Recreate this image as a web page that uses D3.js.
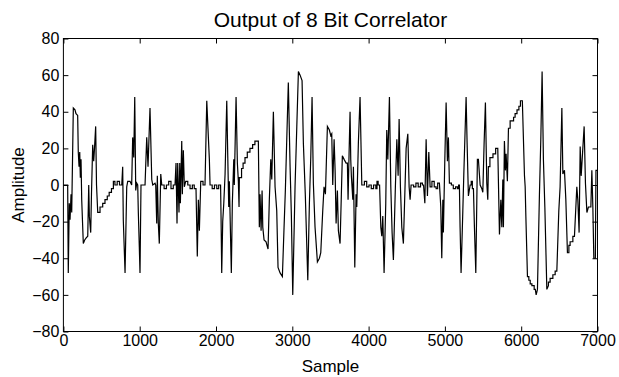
<!DOCTYPE html>
<html>
<head>
<meta charset="utf-8">
<script src="https://cdn.jsdelivr.net/npm/d3@7"></script>
<style>
  html, body { margin: 0; padding: 0; background: #fff; }
  svg text { font-family: "Liberation Sans", Arial, Helvetica, sans-serif; fill: #000; }
</style>
</head>
<body>
<svg id="chart" width="619" height="377"></svg>
<script>
const title = 'Output of 8 Bit Correlator';
const xLabel = 'Sample';
const yLabel = 'Amplitude';
const xTicks = [0, 1000, 2000, 3000, 4000, 5000, 6000, 7000];
const yTicks = [-80, -60, -40, -20, 0, 20, 40, 60, 80];

// [sample, amplitude]
const correlatorOut = [
  [0,0],[56,0],[64,-48],[77,-10],[87,-19],[100,-5],[109,-15],[130,42],[152,41],[165,39],[187,38],
  [195,18],[205,10],[214,18],[222,4],[231,14],[240,-8],[261,-32],[279,-30],[296,-29],[319,-28],
  [332,0],[340,-17],[358,-26],[368,-5],[384,22],[397,13],[405,18],[423,32],[434,0],[450,-15],
  [480,-15],[480,-12],[515,-12],[515,-10],[545,-10],[545,-8],[575,-8],[575,-6],[600,-6],[600,-4],
  [630,-4],[630,-2],[655,-2],[655,2],[675,2],[675,0],[705,0],[705,2],[735,2],[735,0],[765,0],
  [777,10],[785,-19],[808,-48],[830,-1],[843,2],[873,2],[895,0],[908,26],[922,15],[935,48],[948,-3],
  [961,1],[974,0],[982,-15],[995,-34],[1004,-48],[1017,0],[1070,0],[1092,26],[1109,10],[1135,42],
  [1158,3],[1171,0],[1201,1],[1210,0],[1223,-21],[1231,5],[1244,-21],[1257,-32],[1276,6],[1289,0],
  [1320,0],[1320,-2],[1350,-2],[1350,0],[1380,0],[1380,2],[1410,2],[1410,-2],[1440,-2],[1440,0],[1463,0],
  [1476,12],[1489,-21],[1498,12],[1515,-15],[1525,12],[1533,-10],[1551,24],[1559,-5],[1572,19],
  [1585,-1],[1603,2],[1630,2],[1630,0],[1660,0],[1660,-2],[1690,-2],[1690,0],[1715,0],[1715,-2],[1738,-2],
  [1755,-39],[1769,-8],[1782,-25],[1800,2],[1830,2],[1830,0],[1856,0],[1879,46],[1900,26],[1913,14],[1922,0],
  [1950,0],[1950,-2],[1980,-2],[1980,0],[2010,0],[2010,-2],[2035,-2],[2035,0],[2060,0],
  [2066,-17],[2075,-48],[2088,-20],[2102,-10],[2119,6],[2141,46],[2154,16],[2167,-12],[2175,2],
  [2201,-48],[2214,-10],[2233,14],[2240,0],[2263,48],[2280,12],[2293,2],[2302,-12],[2306,4],
  [2335,4],[2335,9],[2355,9],[2355,12],[2380,12],[2380,15],[2410,15],[2410,18],[2445,18],[2445,20],
  [2480,20],[2480,22],[2510,22],[2510,24],[2555,24],
  [2568,-23],[2577,-5],[2591,-25],[2604,-3],[2613,-23],[2630,-30],[2656,-31],[2682,-35],[2699,-8],
  [2718,14],[2731,3],[2752,40],[2774,-1],[2796,-14],[2813,-45],[2840,-48],[2870,-50],[2892,-23],
  [2909,-3],[2948,56],[2971,10],[2988,-17],[3006,-60],[3036,-1],[3059,32],[3080,62],[3102,60],
  [3128,57],[3145,23],[3171,-6],[3203,-52],[3224,-10],[3242,15],[3259,48],[3276,1],[3298,-23],
  [3329,-42],[3355,-40],[3373,-37],[3399,-14],[3416,-1],[3434,-5],[3460,32],[3486,30],[3504,27],
  [3517,28],[3530,0],[3548,25],[3561,8],[3574,-21],[3591,-3],[3604,-25],[3626,-32],[3643,-5],
  [3656,16],[3679,14],[3705,12],[3722,12],[3731,-8],[3744,17],[3757,40],[3766,14],[3774,5],
  [3793,-8],[3801,10],[3819,-45],[3836,-5],[3845,-12],[3866,23],[3888,48],[3911,0],
  [3945,0],[3945,2],[3975,2],[3975,-1],[4005,-1],[4005,0],[4035,0],[4035,-2],[4065,-2],[4065,0],
  [4095,0],[4095,-2],[4110,-2],[4110,2],[4125,2],[4125,0],[4144,0],
  [4160,-23],[4173,-28],[4186,-17],[4203,-48],[4225,-10],[4238,30],[4252,14],[4273,48],[4291,-1],
  [4308,-26],[4325,-41],[4351,-1],[4370,25],[4387,5],[4400,36],[4417,-1],[4435,-23],[4456,-32],
  [4474,-6],[4492,20],[4514,28],[4531,-1],[4544,-8],[4557,0],
  [4590,0],[4590,-1],[4620,-1],[4620,1],[4650,1],[4650,-1],[4680,-1],[4680,1],[4705,1],[4705,0],[4720,0],
  [4737,-10],[4754,25],[4771,-6],[4789,18],[4806,-1],
  [4830,-1],[4830,2],[4860,2],[4860,-1],[4885,-1],[4885,-2],[4905,-2],[4905,1],[4928,1],
  [4946,-12],[4959,-40],[4973,-8],[4980,-26],[4999,14],[5016,45],[5033,13],[5046,26],[5059,1],
  [5085,1],[5085,0],[5110,0],[5110,-2],[5140,-2],[5140,-1],[5165,-1],[5165,-2],[5180,-2],[5180,0],[5190,0],
  [5199,-23],[5212,-48],[5235,-14],[5248,6],[5278,48],[5291,23],[5308,-6],[5331,0],[5345,0],[5345,2],
  [5360,2],[5360,-2],[5374,-2],
  [5387,-23],[5405,-48],[5426,14],[5439,14],[5462,0],[5484,-2],[5497,-4],[5514,23],[5531,45],[5549,1],
  [5562,-8],[5570,10],[5590,10],[5590,15],[5630,15],[5630,17],[5665,17],[5665,20],[5693,20],
  [5715,-27],[5733,-8],[5746,-23],[5759,3],[5767,-23],[5780,24],[5793,8],[5802,17],[5819,2],[5833,31],
  [5855,31],[5855,35],[5900,35],[5900,37],[5920,37],[5920,39],[5945,39],[5945,41],[5970,41],[5970,43],
  [5990,43],[5990,46],[6015,46],
  [6043,5],[6052,-1],[6061,-17],[6082,-50],[6100,-50],[6100,-52],[6118,-52],[6118,-54],[6140,-54],
  [6140,-55],[6170,-55],[6170,-57],[6185,-57],[6196,-60],[6213,-57],[6239,-5],[6257,25],[6274,62],
  [6291,14],[6310,-12],[6336,-57],[6357,-55],[6357,-53],[6379,-53],[6379,-51],[6415,-51],[6415,-49],
  [6445,-49],[6445,-47],[6467,-47],[6493,-14],[6510,-1],[6533,42],[6546,6],[6567,8],[6585,-8],
  [6606,-37],[6625,-37],[6625,-33],[6641,-33],[6641,-31],[6677,-31],[6677,-28],[6698,-28],
  [6729,-1],[6742,-8],[6759,-26],[6773,21],[6786,5],[6799,14],[6825,32],[6842,1],[6861,-15],
  [6881,-12],[6913,-12],[6926,8],[6939,-12],[6952,-40],[6972,-40],[6980,8],[7000,8]
];

const plot = { left: 63.4, right: 597.5, top: 38.5, bottom: 331.5 };

const svg = d3.select('#chart');

const x = d3.scaleLinear().domain([0, 7000]).range([plot.left, plot.right]);
const y = d3.scaleLinear().domain([-80, 80]).range([plot.bottom, plot.top]);

const fmt = d => (d < 0 ? '\u2212' + Math.abs(d) : String(d));

// data line
const line = d3.line().x(d => x(d[0])).y(d => y(d[1]));
svg.append('path')
  .datum(correlatorOut)
  .attr('fill', 'none')
  .attr('stroke', '#000')
  .attr('stroke-width', 1.2)
  .attr('d', line);

// axes, ticks pointing inward like matlab
const axBottom = svg.append('g')
  .attr('transform', `translate(0,${plot.bottom})`)
  .call(d3.axisBottom(x).tickValues(xTicks).tickSizeInner(-5).tickSizeOuter(0).tickPadding(3).tickFormat(fmt));
const axTop = svg.append('g')
  .attr('transform', `translate(0,${plot.top})`)
  .call(d3.axisTop(x).tickValues(xTicks).tickSizeInner(-5).tickSizeOuter(0).tickFormat(''));
const axLeft = svg.append('g')
  .attr('transform', `translate(${plot.left},0)`)
  .call(d3.axisLeft(y).tickValues(yTicks).tickSizeInner(-5).tickSizeOuter(0).tickPadding(4).tickFormat(fmt));
const axRight = svg.append('g')
  .attr('transform', `translate(${plot.right},0)`)
  .call(d3.axisRight(y).tickValues(yTicks).tickSizeInner(-5).tickSizeOuter(0).tickFormat(''));

[axBottom, axTop, axLeft, axRight].forEach(g => {
  g.select('.domain').remove();
  g.selectAll('line').attr('stroke', '#000');
  g.selectAll('text').attr('font-size', 16).attr('font-family', null);
});

// box
svg.append('rect')
  .attr('x', plot.left).attr('y', plot.top)
  .attr('width', plot.right - plot.left).attr('height', plot.bottom - plot.top)
  .attr('fill', 'none').attr('stroke', '#000').attr('stroke-width', 1);

svg.append('text')
  .attr('x', (plot.left + plot.right) / 2).attr('y', 27)
  .attr('text-anchor', 'middle').attr('font-size', 21)
  .text(title);

svg.append('text')
  .attr('x', (plot.left + plot.right) / 2).attr('y', 372)
  .attr('text-anchor', 'middle').attr('font-size', 17)
  .text(xLabel);

svg.append('text')
  .attr('transform', `translate(24,${(plot.top + plot.bottom) / 2}) rotate(-90)`)
  .attr('text-anchor', 'middle').attr('font-size', 17)
  .text(yLabel);
</script>
</body>
</html>
